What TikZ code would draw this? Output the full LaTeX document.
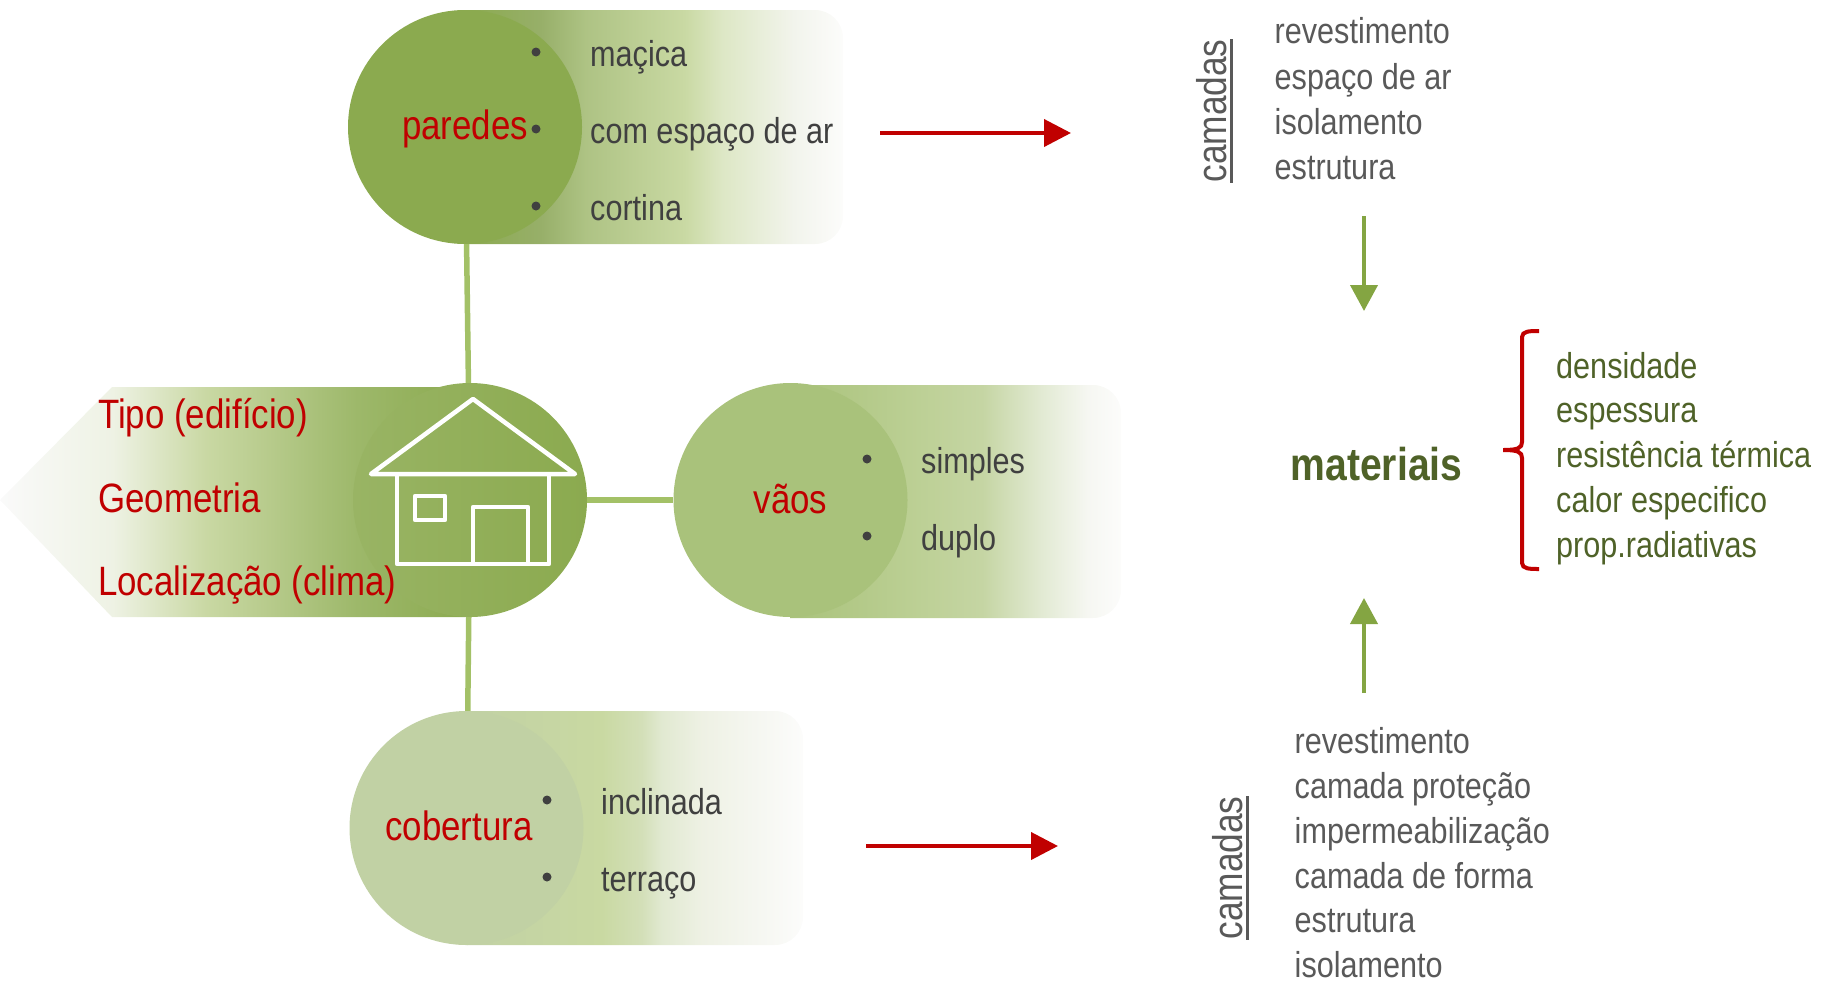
\documentclass[tikz,border=0pt]{standalone}
\usepackage{fontspec}
\setmainfont{Liberation Sans}[FakeStretch=0.85]
\usetikzlibrary{arrows.meta}
\definecolor{myred}{RGB}{192,0,0}
\definecolor{mygreen}{RGB}{132,165,66}
\definecolor{myspoke}{RGB}{163,193,103}
\definecolor{mydark}{RGB}{79,98,40}
\definecolor{mygrey}{RGB}{89,89,89}
\definecolor{myink}{RGB}{64,64,64}
\definecolor{pa1}{HTML}{8BAA4F}\definecolor{pa2}{HTML}{97AF69}\definecolor{pa7}{HTML}{AEC384}\definecolor{pa3}{HTML}{C9D9A3}
\definecolor{pa4}{HTML}{DDE7C5}\definecolor{pa5}{HTML}{F2F4EC}\definecolor{pa6}{HTML}{FCFCFB}
\definecolor{va1}{HTML}{A9C27B}\definecolor{va2}{HTML}{BBCF93}\definecolor{va3}{HTML}{C5D5A3}
\definecolor{va4}{HTML}{E2EAD3}\definecolor{va5}{HTML}{F6F7F2}
\definecolor{co1}{HTML}{C1D1A4}\definecolor{co2}{HTML}{C9D9A2}\definecolor{co6}{HTML}{D3DFB8}\definecolor{co3}{HTML}{E1E9D1}
\definecolor{co4}{HTML}{EEF1E4}\definecolor{co5}{HTML}{F6F7F2}
\definecolor{ti1}{HTML}{FAFAFA}\definecolor{ti2}{HTML}{EEF2E4}\definecolor{ti3}{HTML}{C9D8A3}
\definecolor{ti4}{HTML}{9DB86A}
\pgfdeclarehorizontalshading{fadeparedes}{100bp}{color(0bp)=(pa1); color(25bp)=(pa1);
  color(35bp)=(pa2); color(41bp)=(pa7); color(54bp)=(pa3); color(59bp)=(pa4); color(68.5bp)=(pa5); color(75bp)=(pa6); color(100bp)=(pa6)}
\pgfdeclarehorizontalshading{fadevaos}{100bp}{color(0bp)=(va1); color(25bp)=(va1);
  color(43bp)=(va2); color(54bp)=(va3); color(63bp)=(va4); color(70bp)=(va5); color(75bp)=(pa6); color(100bp)=(pa6)}
\pgfdeclarehorizontalshading{fadecobertura}{100bp}{color(0bp)=(co1); color(25bp)=(co1);
  color(45bp)=(co2); color(51bp)=(co6); color(54bp)=(co3); color(60bp)=(co4); color(69bp)=(co5); color(75bp)=(pa6); color(100bp)=(pa6)}
\pgfdeclarehorizontalshading{fadetipo}{100bp}{color(0bp)=(ti1); color(25bp)=(ti1);
  color(37bp)=(ti2); color(47bp)=(ti3); color(63bp)=(ti4); color(75bp)=(pa1); color(100bp)=(pa1)}

\begin{document}
\begin{tikzpicture}[x=1pt,y=-1pt,
    bubble/.style={circle,minimum size=234pt,inner sep=0pt},
    dot/.style={circle,fill=myink,minimum size=9pt,inner sep=0pt},
    item/.style={anchor=base west,inner sep=0pt,text=myink,font=\fontsize{36}{43}\selectfont},
    title/.style={anchor=base,inner sep=0pt,text=myred,font=\fontsize{41}{49}\selectfont},
    layer/.style={anchor=base west,inner sep=0pt,text=mygrey,font=\fontsize{36}{43}\selectfont},
    prop/.style={anchor=base west,inner sep=0pt,text=mydark,font=\fontsize{36}{43}\selectfont},
    camada/.style={rotate=90,anchor=base,inner sep=0pt,text depth=5pt,text=mygrey,font=\fontsize{41.5}{50}\selectfont},
    spoke/.style={draw=myspoke,line width=5.5pt},
    redline/.style={draw=myred,line width=4pt,-{Triangle[length=27pt,width=27pt]}},
    greenline/.style={draw=mygreen,line width=4pt,-{Triangle[length=26pt,width=27pt]}},
    house/.style={draw=white,line width=4.5pt,line join=round}
  ]
  \useasboundingbox (0,0) rectangle (1825,988);

  % the bands behind the circles
  \shade[shading=fadeparedes] (465,10) [rounded corners=28pt] -- (843,10) -- (843,244) [sharp corners] -- (465,244) -- cycle;
  \shade[shading=fadevaos] (790,385) [rounded corners=28pt] -- (1121,385) -- (1121,618) [sharp corners] -- (790,618) -- cycle;
  \shade[shading=fadecobertura] (467,711) [rounded corners=28pt] -- (803,711) -- (803,945) [sharp corners] -- (467,945) -- cycle;
  \shade[shading=fadetipo] (0,500) -- (112,387) -- (470,387) -- (470,617) -- (112,617) -- cycle;

  % the circles
  \node[bubble,fill=pa1] (paredes) at (465,127) {};
  \node[bubble,fill=va1] (vaos) at (790.5,500) {};
  \node[bubble,fill=co1] (cobertura) at (466.5,828) {};
  \node[bubble,left color=pa1!88!white,right color=pa1] (centro) at (470,500) {};

  % the spokes
  \draw[spoke] (paredes) -- (centro);
  \draw[spoke] (centro) -- (vaos);
  \draw[spoke] (centro) -- (cobertura);

  % the house
  \draw[house] (371,474) -- (473,399) -- (575,474) -- cycle;
  \draw[house] (397,474) -- (397,564) -- (549,564) -- (549,474);
  \draw[house] (415,496) rectangle (445,520);
  \draw[house] (473,564) -- (473,507) -- (528,507) -- (528,564);

  % the titles
  \node[title] (tparedes) at (465,139) {paredes};
  \node[title] (tvaos) at (790.5,513) {vãos};
  \node[title] (tcobertura) at (459,840) {cobertura};
  \foreach \i/\ycoord/\txt in {1/428/Tipo (edifício),2/512/Geometria,3/595/Localização (clima)}
    \node[title,anchor=base west] (t\i) at (98,\ycoord) {\txt};

  % the items of the walls
  \foreach \i/\ycoord/\txt in {1/52/maçica,2/129/com espaço de ar,3/206/cortina} {
    \node[dot] (pd\i) at (536,\ycoord) {};
    \node[item] (pt\i) at (590,\ycoord+14) {\txt};
  }
  % the items of the openings
  \foreach \i/\ycoord/\txt in {1/459/simples,2/536/duplo} {
    \node[dot] (vd\i) at (867,\ycoord) {};
    \node[item] (vt\i) at (921,\ycoord+14) {\txt};
  }
  % the items of the roof
  \foreach \i/\ycoord/\txt in {1/800/inclinada,2/877/terraço} {
    \node[dot] (cd\i) at (547,\ycoord) {};
    \node[item] (ct\i) at (601,\ycoord+14) {\txt};
  }

  % the layers of the walls
  \node[camada] (cam1) at (1226,111) {camadas};
  \draw[mygrey,line width=3pt] (cam1.south west) -- (cam1.south east);
  \foreach \i/\ycoord/\txt in {1/43/revestimento,2/89/espaço de ar,3/134/isolamento,4/179/estrutura}
    \node[layer] (l\i) at (1274.5,\ycoord) {\txt};

  % the layers of the roof
  \node[camada] (cam2) at (1242,868) {camadas};
  \draw[mygrey,line width=3pt] (cam2.south west) -- (cam2.south east);
  \foreach \i/\ycoord/\txt in {1/753/revestimento,2/798/camada proteção,3/843/impermeabilização,4/888/camada de forma,5/932.5/estrutura,6/977.5/isolamento}
    \node[layer] (r\i) at (1294.5,\ycoord) {\txt};

  % the materials
  \node[anchor=base west,inner sep=0pt,text=mydark,font=\fontsize{46}{55}\selectfont\bfseries] (materiais) at (1290.5,480) {materiais};
  \foreach \i/\ycoord/\txt in {1/378/densidade,2/422/espessura,3/467/resistência térmica,4/512/calor especifico,5/557/prop.radiativas}
    \node[prop] (m\i) at (1556,\ycoord) {\txt};
  \draw[myred,line width=4pt] (1539,331) .. controls (1530,331) and (1522,331) .. (1522,337)
    -- (1522,442) .. controls (1522,448) and (1518,450) .. (1503,450)
    .. controls (1518,450) and (1522,452) .. (1522,458)
    -- (1522,563) .. controls (1522,569) and (1530,569) .. (1539,569);

  % the arrows
  \coordinate (ra1) at (880,133);
  \coordinate (rb1) at (1071,133);
  \coordinate (ra2) at (866,846);
  \coordinate (rb2) at (1058,846);
  \coordinate (ga1) at (1364,216);
  \coordinate (gb1) at (1364,311);
  \coordinate (ga2) at (1364,693);
  \coordinate (gb2) at (1364,598);
  \draw[redline] (ra1) -- (rb1);
  \draw[redline] (ra2) -- (rb2);
  \draw[greenline] (ga1) -- (gb1);
  \draw[greenline] (ga2) -- (gb2);
\end{tikzpicture}
\end{document}
